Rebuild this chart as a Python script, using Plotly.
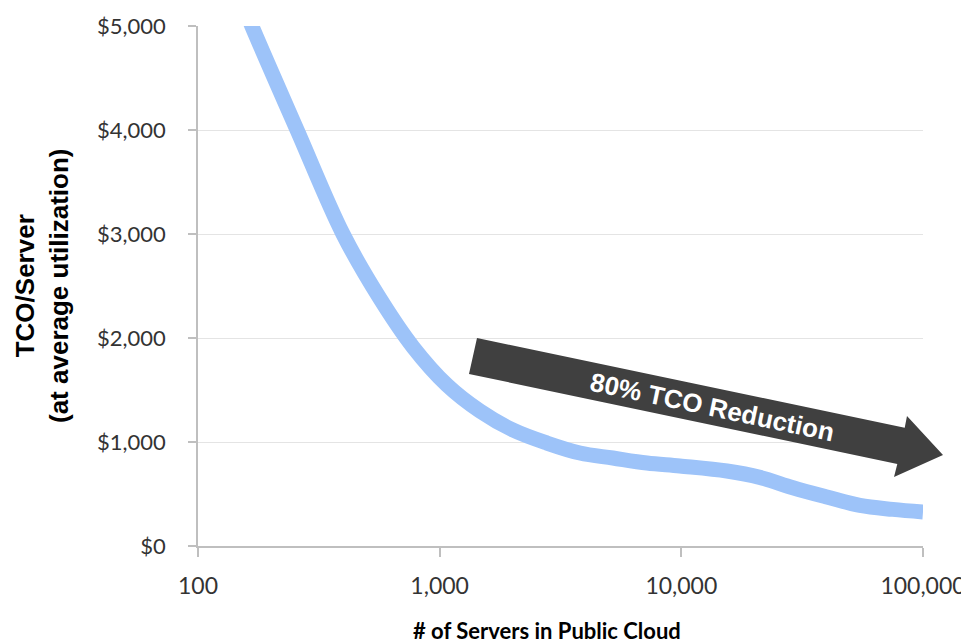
import plotly.graph_objects as go

# ---- data ----
servers = [145, 167, 257, 398, 561, 776, 1072, 1468, 2011, 2778, 3805, 5210,
           7205, 9860, 15440, 21130, 28950, 40000, 54800, 75000, 100000]
tco = [5350, 5000, 4000, 3000, 2394, 1913, 1548, 1298, 1115, 990, 894, 846,
       798, 769, 721, 660, 560, 471, 390, 352, 327]

x_tickvals = [100, 1000, 10000, 100000]
x_ticktext = ["100", "1,000", "10,000", "100,000"]
y_tickvals = [0, 1000, 2000, 3000, 4000, 5000]
y_ticktext = ["$0", "$1,000", "$2,000", "$3,000", "$4,000", "$5,000"]

arrow_label = "80% TCO Reduction"
x_title = "# of Servers in Public Cloud"
y_title = "TCO/Server<br>(at average utilization)"

# ---- layout geometry (page body has an 8px margin) ----
OFF = 8
W, H = 969 - OFF, 644 - OFF
L, R, T, B = 198 - OFF, 46, 26 - OFF, 98
PW, PH = 725, 520


def px(xp, yp):
    """reference-window pixel -> paper coords"""
    return (xp - OFF - L) / PW, (T + PH - (yp - OFF)) / PH


fig = go.Figure()
fig.add_trace(go.Scatter(
    x=servers, y=tco, mode="lines",
    line=dict(color="#9DC3F9", width=15, shape="spline", smoothing=1.0),
    hoverinfo="skip", showlegend=False,
))

# arrow polygon (decoration) in reference pixel space -> paper
arrow_pts = [(477, 338), (904.7, 427.8), (907, 416), (943, 455),
             (894, 477), (897.3, 464), (469, 374)]
pp = [px(a, b) for a, b in arrow_pts]
path = "M " + " L ".join(f"{a:.5f},{b:.5f}" for a, b in pp) + " Z"
fig.add_shape(type="path", path=path, xref="paper", yref="paper",
              fillcolor="#404040", line=dict(width=0), layer="above")

ax, ay = px(712, 407)
fig.add_annotation(x=ax, y=ay, xref="paper", yref="paper", text=arrow_label,
                   showarrow=False, textangle=11.9,
                   font=dict(family="Liberation Sans", size=26, color="white",
                             weight="bold"),
                   xanchor="center", yanchor="middle")

tx, ty = px(42, 286)
fig.add_annotation(x=tx, y=ty, xref="paper", yref="paper", text=y_title,
                   showarrow=False, textangle=-90,
                   font=dict(family="Liberation Sans", size=26, color="#000000",
                             weight="bold"),
                   xanchor="center", yanchor="middle")

xx, xy = px(547, 630)
fig.add_annotation(x=xx, y=xy, xref="paper", yref="paper", text=x_title,
                   showarrow=False, borderpad=0,
                   font=dict(family="Lato", size=22, color="#000000",
                             weight="bold"),
                   xanchor="center", yanchor="middle")

fig.update_layout(
    width=W, height=H,
    margin=dict(l=L, r=R, t=T, b=B, autoexpand=False),
    paper_bgcolor="white", plot_bgcolor="white",
    xaxis=dict(
        type="log", range=[2, 5], tickvals=x_tickvals, ticktext=x_ticktext,
        showgrid=False, zeroline=False,
        showline=True, linecolor="#BFBFBF", linewidth=1.5,
        ticks="outside", ticklen=9, tickcolor="#BFBFBF", tickwidth=1.5,
        tickfont=dict(family="Lato", size=23, color="#333333"),
        ticklabelstandoff=10,
    ),
    yaxis=dict(
        range=[0, 5000], tickvals=y_tickvals, ticktext=y_ticktext,
        showgrid=True, gridcolor="#E4E4E4", gridwidth=1.2,
        zeroline=False,
        showline=True, linecolor="#BFBFBF", linewidth=1.5,
        ticks="outside", ticklen=8, tickcolor="#BFBFBF", tickwidth=1.5,
        tickfont=dict(family="Lato", size=22, color="#333333"),
        ticklabelstandoff=18,
    ),
)

fig.write_html("out.html")
